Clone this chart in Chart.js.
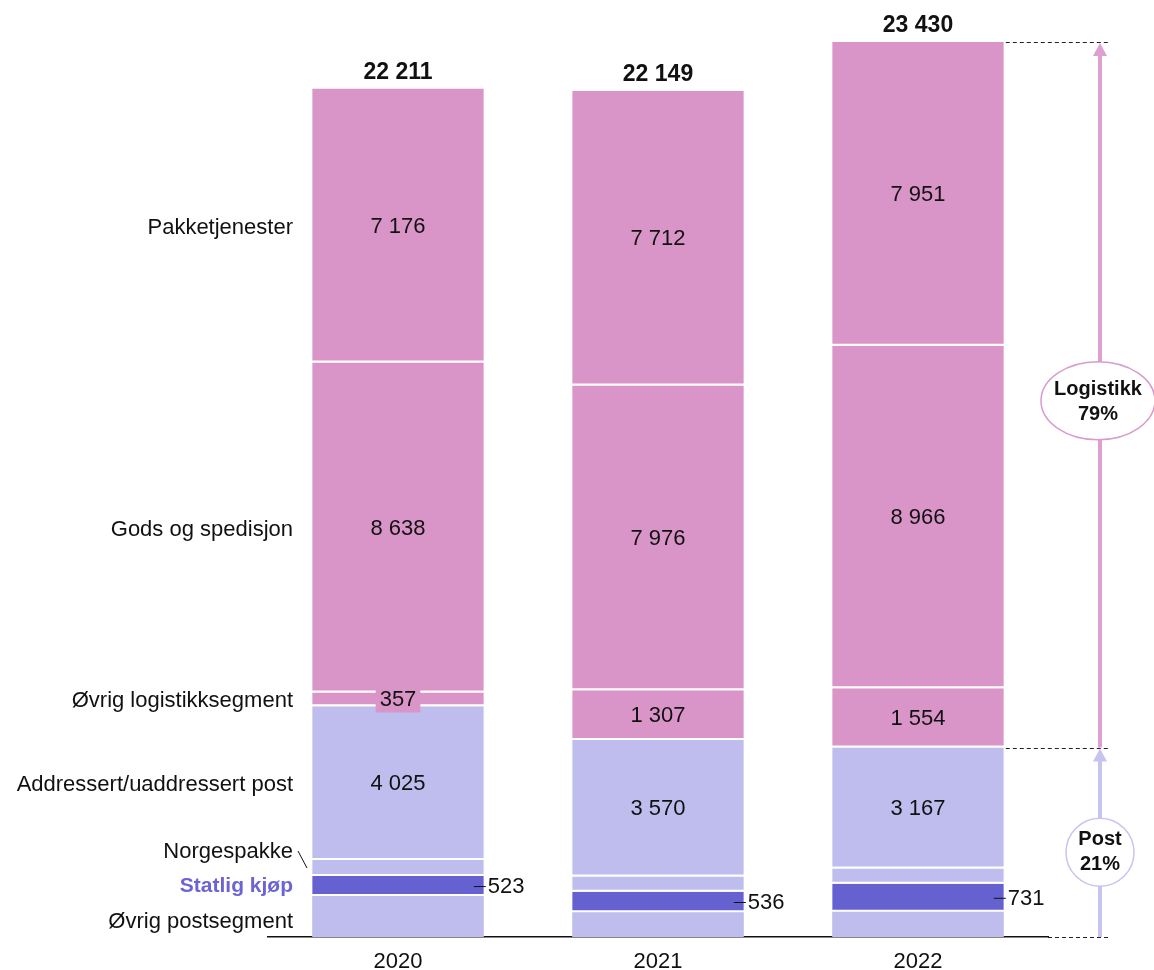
<!DOCTYPE html>
<html>
<head>
<meta charset="utf-8">
<script src="https://cdn.jsdelivr.net/npm/chart.js@4"></script>
<style>
  body { margin: 0; background: #fff; }
</style>
</head>
<body>
<canvas id="myChart" width="1154" height="970"></canvas>
<script>
const years = ['2020', '2021', '2022'];
const ovrigPost = [1072, 648, 661];
const statligKjop = [523, 536, 731];
const norgespakke = [420, 400, 400];
const adressert = [4025, 3570, 3167];
const ovrigLogistikk = [357, 1307, 1554];
const gods = [8638, 7976, 8966];
const pakke = [7176, 7712, 7951];
const shareLabels = ['Logistikk', '79%', 'Post', '21%'];

const PINK = '#DA95C8';
const LAV = '#BFBDED';
const DARK = '#6661D1';
const FONT = '"Liberation Sans", Arial, sans-serif';

function fmt(n) {
  return String(n).replace(/\B(?=(\d{3})+(?!\d))/g, ' ');
}

// label text, y offset for left labels, how value is shown
const series = [
  { label: 'Øvrig postsegment', data: ovrigPost, color: LAV, off: 5, show: 'none' },
  { label: 'Statlig kjøp', data: statligKjop, color: DARK, off: 0, show: 'right' },
  { label: 'Norgespakke', data: norgespakke, color: LAV, off: -16, show: 'none' },
  { label: 'Addressert/uaddressert post', data: adressert, color: LAV, off: 2, show: 'in' },
  { label: 'Øvrig logistikksegment', data: ovrigLogistikk, color: PINK, off: 2, show: 'in' },
  { label: 'Gods og spedisjon', data: gods, color: PINK, off: 2, show: 'in' },
  { label: 'Pakketjenester', data: pakke, color: PINK, off: 2, show: 'in' }
];

const labelPlugin = {
  id: 'labels',
  afterDatasetsDraw(chart) {
    const ctx = chart.ctx;
    const y = chart.scales.y;
    ctx.save();
    ctx.textBaseline = 'middle';

    // values in the segments
    series.forEach((s, di) => {
      const meta = chart.getDatasetMeta(di);
      meta.data.forEach((bar, i) => {
        const top = bar.y, bottom = bar.base;
        const mid = (top + bottom) / 2;
        const txt = fmt(s.data[i]);
        if (s.show === 'in') {
          ctx.font = '22px ' + FONT;
          ctx.textAlign = 'center';
          if (bottom - top < 22) {
            const w = ctx.measureText(txt).width + 8;
            ctx.fillStyle = s.color;
            ctx.fillRect(bar.x - w / 2, mid - 11, w, 24);
          }
          ctx.fillStyle = '#111';
          ctx.fillText(txt, bar.x, mid + 1);
        } else if (s.show === 'right') {
          const right = bar.x + bar.width / 2;
          ctx.strokeStyle = '#111';
          ctx.lineWidth = 1;
          ctx.beginPath();
          ctx.moveTo(right - 10, mid + 0.5);
          ctx.lineTo(right + 2, mid + 0.5);
          ctx.stroke();
          ctx.font = '22px ' + FONT;
          ctx.textAlign = 'left';
          ctx.fillStyle = '#111';
          ctx.fillText(txt, right + 4, mid + 1);
        }
      });
    });

    // totals
    years.forEach((yr, i) => {
      let total = 0;
      series.forEach(s => { total += s.data[i]; });
      const bar = chart.getDatasetMeta(series.length - 1).data[i];
      ctx.font = 'bold 23px ' + FONT;
      ctx.textAlign = 'center';
      ctx.fillStyle = '#111';
      ctx.fillText(fmt(total), bar.x, y.getPixelForValue(total) - 16);
    });

    // category names left of the first bar
    series.forEach((s, di) => {
      const bar = chart.getDatasetMeta(di).data[0];
      const mid = (bar.y + bar.base) / 2 + s.off;
      ctx.textAlign = 'right';
      if (s.show === 'right') {
        ctx.font = 'bold 21px ' + FONT;
        ctx.fillStyle = '#6B63D6';
      } else {
        ctx.font = '22px ' + FONT;
        ctx.fillStyle = '#111';
      }
      ctx.fillText(s.label, 293, mid);
      if (s.label === 'Norgespakke') {
        ctx.strokeStyle = '#111';
        ctx.lineWidth = 1;
        ctx.beginPath();
        ctx.moveTo(298, mid - 1);
        ctx.lineTo(307, mid + 16);
        ctx.stroke();
      }
    });

    // share annotation on the right
    let total22 = 0, post22 = 0;
    series.forEach((s, di) => {
      total22 += s.data[2];
      if (di < 4) post22 += s.data[2];
    });
    const yTop = y.getPixelForValue(total22);
    const yMid = y.getPixelForValue(post22);
    const yBase = y.getPixelForValue(0);
    const lastBar = chart.getDatasetMeta(0).data[2];
    const barRight = lastBar.x + lastBar.width / 2;
    const ax = 1100;

    ctx.strokeStyle = '#222';
    ctx.lineWidth = 1;
    ctx.setLineDash([4, 3]);
    [[barRight + 2, yTop], [barRight + 2, yMid], [chart.chartArea.right, yBase]].forEach(p => {
      ctx.beginPath();
      ctx.moveTo(p[0], Math.round(p[1]) + 0.5);
      ctx.lineTo(1108, Math.round(p[1]) + 0.5);
      ctx.stroke();
    });
    ctx.setLineDash([]);

    function arrow(y0, y1, color) {
      ctx.fillStyle = color;
      ctx.fillRect(ax - 2, y1 + 12, 4, y0 - y1 - 12);
      ctx.beginPath();
      ctx.moveTo(ax, y1 + 1);
      ctx.lineTo(ax - 7, y1 + 14);
      ctx.lineTo(ax + 7, y1 + 14);
      ctx.closePath();
      ctx.fill();
    }
    arrow(yMid, yTop, '#DDA0D0');
    arrow(yBase, yMid, '#C6C4F0');

    // Logistikk ellipse
    const ly = (yTop + yMid) / 2 + 6;
    ctx.beginPath();
    ctx.ellipse(ax - 2, ly, 57, 39, 0, 0, Math.PI * 2);
    ctx.fillStyle = '#fff';
    ctx.fill();
    ctx.strokeStyle = '#D99BCB';
    ctx.lineWidth = 1.5;
    ctx.stroke();

    // Post circle
    const py = (yMid + yBase) / 2 + 10;
    ctx.beginPath();
    ctx.arc(ax, py, 34, 0, Math.PI * 2);
    ctx.fillStyle = '#fff';
    ctx.fill();
    ctx.strokeStyle = '#C6C4F0';
    ctx.stroke();

    ctx.font = 'bold 20px ' + FONT;
    ctx.textAlign = 'center';
    ctx.fillStyle = '#111';
    ctx.fillText(shareLabels[0], ax - 2, ly - 11);
    ctx.fillText(shareLabels[1], ax - 2, ly + 14);
    ctx.fillText(shareLabels[2], ax, py - 13);
    ctx.fillText(shareLabels[3], ax, py + 12);

    ctx.restore();
  }
};

const chartEl = document.getElementById('myChart');

new Chart(chartEl, {
  type: 'bar',
  data: {
    labels: years,
    datasets: series.map((s, di) => ({
      label: s.label,
      data: s.data,
      backgroundColor: s.color,
      borderColor: '#ffffff',
      borderWidth: di === 0 ? 0 : { top: 0, right: 0, left: 0, bottom: 2 },
      borderSkipped: false,
      barPercentage: 0.66,
      categoryPercentage: 1
    }))
  },
  options: {
    responsive: false,
    animation: false,
    layout: { padding: { left: 268, right: 106, top: 1, bottom: 0 } },
    plugins: {
      legend: { display: false },
      tooltip: { enabled: false }
    },
    scales: {
      x: {
        stacked: true,
        grid: { display: false, drawTicks: false },
        border: { display: true, color: '#111', width: 1.5 },
        ticks: { color: '#111', font: { family: FONT, size: 22 }, padding: 12 },
        afterFit(axis) { axis.height = 33; }
      },
      y: {
        stacked: true,
        display: false,
        min: 0,
        max: 24500
      }
    }
  },
  plugins: [labelPlugin]
});
</script>
</body>
</html>
